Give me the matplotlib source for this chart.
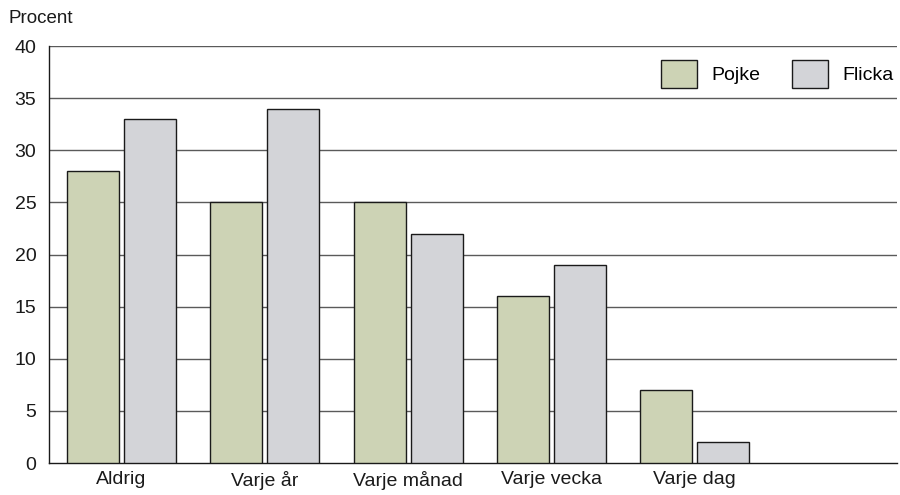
import matplotlib
matplotlib.use("Agg")
import matplotlib.pyplot as plt
import numpy as np

categories = ["Aldrig", "Varje år", "Varje månad", "Varje vecka", "Varje dag"]
pojke = [28, 25, 25, 16, 7]
flicka = [33, 34, 22, 19, 2]
series_names = ["Pojke", "Flicka"]
yticks = [0, 5, 10, 15, 20, 25, 30, 35, 40]

plt.rcParams["font.family"] = ["Liberation Sans", "DejaVu Sans"]
fs = 14

fig = plt.figure(figsize=(9, 4.95), dpi=100)
ax = fig.add_axes([0.0544, 0.0646, 0.9426, 0.8424])

x = np.arange(len(categories))
w = 0.363
off = 0.199
ax.bar(x - off, pojke, w, color="#cdd3b5", edgecolor="#1a1a1a", linewidth=1.0, zorder=3, label=series_names[0])
ax.bar(x + off, flicka, w, color="#d3d4d8", edgecolor="#1a1a1a", linewidth=1.0, zorder=3, label=series_names[1])

for y in yticks[1:]:
    ax.axhline(y, color="#5a5a5a", linewidth=1.0, zorder=1)

ax.set_xlim(-0.506, 5.414)
ax.set_ylim(0, 40)
ax.set_yticks(yticks)
ax.set_xticks(x)
ax.set_xticklabels(categories)
ax.tick_params(axis="both", length=0, labelsize=fs, colors="#1a1a1a")
ax.tick_params(axis="y", pad=9)
ax.tick_params(axis="x", pad=6)

for s in ["top", "right"]:
    ax.spines[s].set_visible(False)
for s in ["left", "bottom"]:
    ax.spines[s].set_color("#1a1a1a")
    ax.spines[s].set_linewidth(1.0)

fig.text(0.009, 0.945, "Procent", fontsize=fs - 0.5, color="#1a1a1a", ha="left", va="bottom")

ax.legend(loc="upper right", bbox_to_anchor=(1.005, 0.985), ncol=2, frameon=False,
          fontsize=fs, handlelength=1.85, handleheight=1.8,
          handletextpad=0.75, columnspacing=1.6, borderaxespad=0)

fig.savefig("out.png", dpi=100)
